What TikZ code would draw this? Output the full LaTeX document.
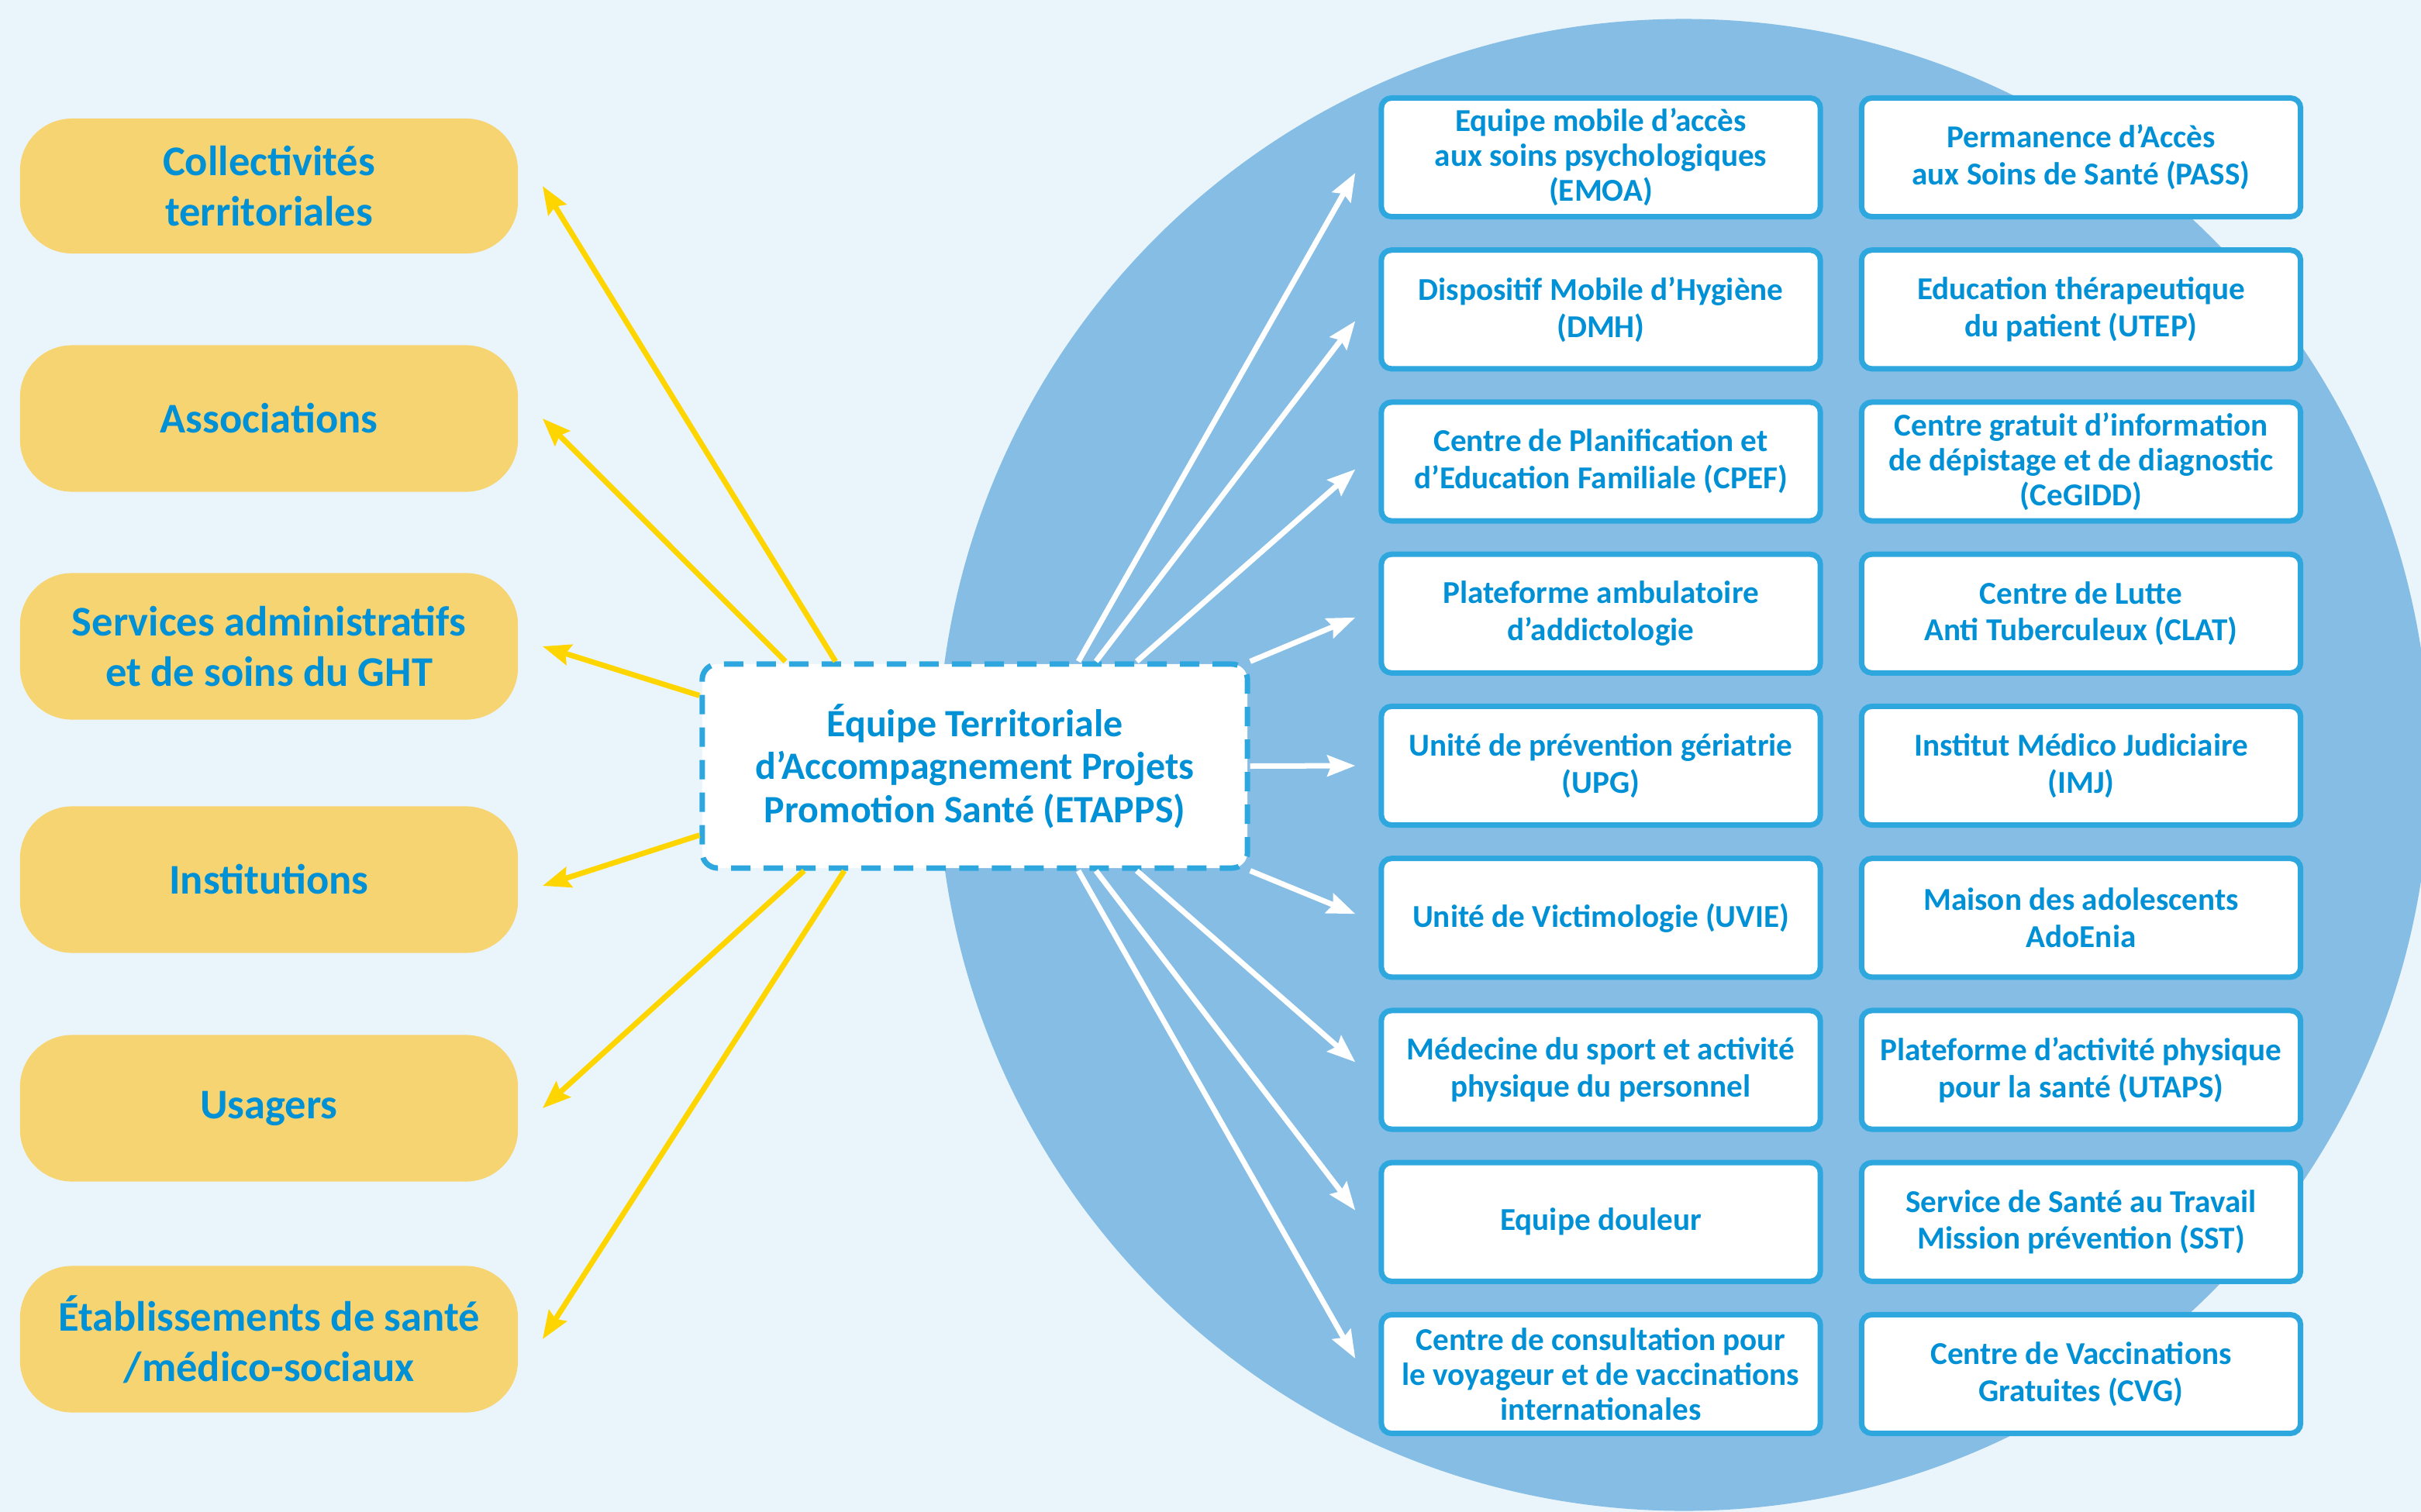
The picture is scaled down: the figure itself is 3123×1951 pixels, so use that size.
\documentclass[tikz,border=0pt]{standalone}
\usepackage{fontspec}
\setmainfont{Carlito}
\usetikzlibrary{calc,arrows.meta}
\definecolor{fond}{HTML}{EAF5FB}
\definecolor{disque}{HTML}{85BDE5}
\definecolor{jaune}{HTML}{F7D472}
\definecolor{fleche}{HTML}{FFD500}
\definecolor{bord}{HTML}{2EA7DE}
\definecolor{texte}{HTML}{0090D5}

\begin{document}
\begin{tikzpicture}[x=0.01cm,y=-0.01cm,
    pill/.style={fill=jaune,rounded corners=0.67cm,minimum width=6.42cm,minimum height=1.89cm,
        align=center,text=texte,font=\fontsize{15.5}{18.5}\selectfont\bfseries},
    centre/.style={draw=bord,fill=white,line width=0.07cm,dash pattern=on 0.25cm off 0.17cm,
        rounded corners=0.2cm,minimum width=7.03cm,minimum height=2.63cm,align=center,text=texte,
        font=\fontsize{14.2}{15.8}\selectfont\bfseries},
    service/.style={draw=bord,fill=white,line width=0.07cm,rounded corners=0.13cm,
        minimum width=5.66cm,minimum height=1.53cm,inner sep=0pt,align=center,text=texte,
        font=\fontsize{11.7}{13.6}\selectfont\bfseries},
    trois/.style={font=\fontsize{11.7}{12.8}\selectfont\bfseries},
    deux/.style={},
    jlien/.style={draw=fleche,line width=0.07cm,-{Stealth[length=0.36cm,width=0.27cm,inset=0.05cm]}},
    blien/.style={jlien,draw=white},
  ]
  \useasboundingbox (0,0) rectangle (3123,1951);
  \fill[fond] (0,0) rectangle (3123,1951);
  \begin{scope}
    \clip (0,0) rectangle (3123,1951);
    \fill[disque] (2172,987) circle (9.62cm);
  \end{scope}

  % partenaires
  \node(coll)[pill,minimum height=1.74cm] at (347,240) {Collectivités\\territoriales};
  \node(asso)[pill] at (347,540) {Associations};
  \node(serv)[pill] at (347,834) {Services administratifs\\et de soins du GHT};
  \node(inst)[pill] at (347,1135) {Institutions};
  \node(usag)[pill] at (347,1430) {Usagers};
  \node(etab)[pill] at (347,1728) {Établissements de santé\\/médico-sociaux};

  \node(etapps)[centre] at (1257.5,988.5) {Équipe Territoriale\\d’Accompagnement Projets\\Promotion Santé (ETAPPS)};

  % services du GHT
  \foreach \nom/\k/\st/\txt in {
      s1/0/trois/{Equipe mobile d’accès\\aux soins psychologiques\\(EMOA)},
      s2/1/deux/{Dispositif Mobile d’Hygiène\\(DMH)},
      s3/2/deux/{Centre de Planification et\\d’Education Familiale (CPEF)},
      s4/3/deux/{Plateforme ambulatoire\\d’addictologie},
      s5/4/deux/{Unité de prévention gériatrie\\(UPG)},
      s6/5/deux/{Unité de Victimologie (UVIE)},
      s7/6/deux/{Médecine du sport et activité\\physique du personnel},
      s8/7/deux/{Equipe douleur},
      s9/8/trois/{Centre de consultation pour\\le voyageur et de vaccinations\\internationales}}
    \node(\nom)[service,\st] at (2065,{203+196.25*\k}) {\txt};
  \foreach \nom/\k/\st/\txt in {
      t1/0/deux/{Permanence d’Accès\\aux Soins de Santé (PASS)},
      t2/1/deux/{Education thérapeutique\\du patient (UTEP)},
      t3/2/trois/{Centre gratuit d’information\\de dépistage et de diagnostic\\(CeGIDD)},
      t4/3/deux/{Centre de Lutte\\Anti Tuberculeux (CLAT)},
      t5/4/deux/{Institut Médico Judiciaire\\(IMJ)},
      t6/5/deux/{Maison des adolescents\\AdoEnia},
      t7/6/deux/{Plateforme d’activité physique\\pour la santé (UTAPS)},
      t8/7/deux/{Service de Santé au Travail\\Mission prévention (SST)},
      t9/8/deux/{Centre de Vaccinations\\Gratuites (CVG)}}
    \node(\nom)[service,\st] at (2684.5,{203+196.25*\k}) {\txt};

  % fleches jaunes
  \draw[jlien] ($(etapps.north west)!.247!(etapps.north east)$) -- ([xshift=0.31cm]coll.east);
  \draw[jlien] ($(etapps.north west)!.156!(etapps.north east)$) -- ([xshift=0.31cm]asso.east);
  \draw[jlien] ($(etapps.north west)!.163!(etapps.south west)$) -- ([xshift=0.31cm]serv.east);
  \draw[jlien] ($(etapps.north west)!.83!(etapps.south west)$) -- ([xshift=0.31cm,yshift=-0.08cm]inst.east);
  \draw[jlien] ($(etapps.south west)!.19!(etapps.south east)$) -- ([xshift=0.31cm]usag.east);
  \draw[jlien] ($(etapps.south west)!.263!(etapps.south east)$) -- ([xshift=0.31cm]etab.east);

  % fleches blanches
  \draw[blien] ($(etapps.north west)!.688!(etapps.north east)$) -- ([xshift=-0.3cm,yshift=-0.2cm]s1.west);
  \draw[blien] ($(etapps.north west)!.72!(etapps.north east)$) -- ([xshift=-0.3cm,yshift=-0.15cm]s2.west);
  \draw[blien] ($(etapps.north west)!.794!(etapps.north east)$) -- ([xshift=-0.3cm,yshift=-0.1cm]s3.west);
  \draw[blien] (etapps.north east) -- ([xshift=-0.3cm,yshift=-0.05cm]s4.west);
  \draw[blien] (etapps.east) -- ([xshift=-0.3cm]s5.west);
  \draw[blien] (etapps.south east) -- ([xshift=-0.3cm,yshift=0.05cm]s6.west);
  \draw[blien] ($(etapps.south west)!.794!(etapps.south east)$) -- ([xshift=-0.3cm,yshift=0.1cm]s7.west);
  \draw[blien] ($(etapps.south west)!.72!(etapps.south east)$) -- ([xshift=-0.3cm,yshift=0.15cm]s8.west);
  \draw[blien] ($(etapps.south west)!.688!(etapps.south east)$) -- ([xshift=-0.3cm,yshift=0.2cm]s9.west);
\end{tikzpicture}
\end{document}
